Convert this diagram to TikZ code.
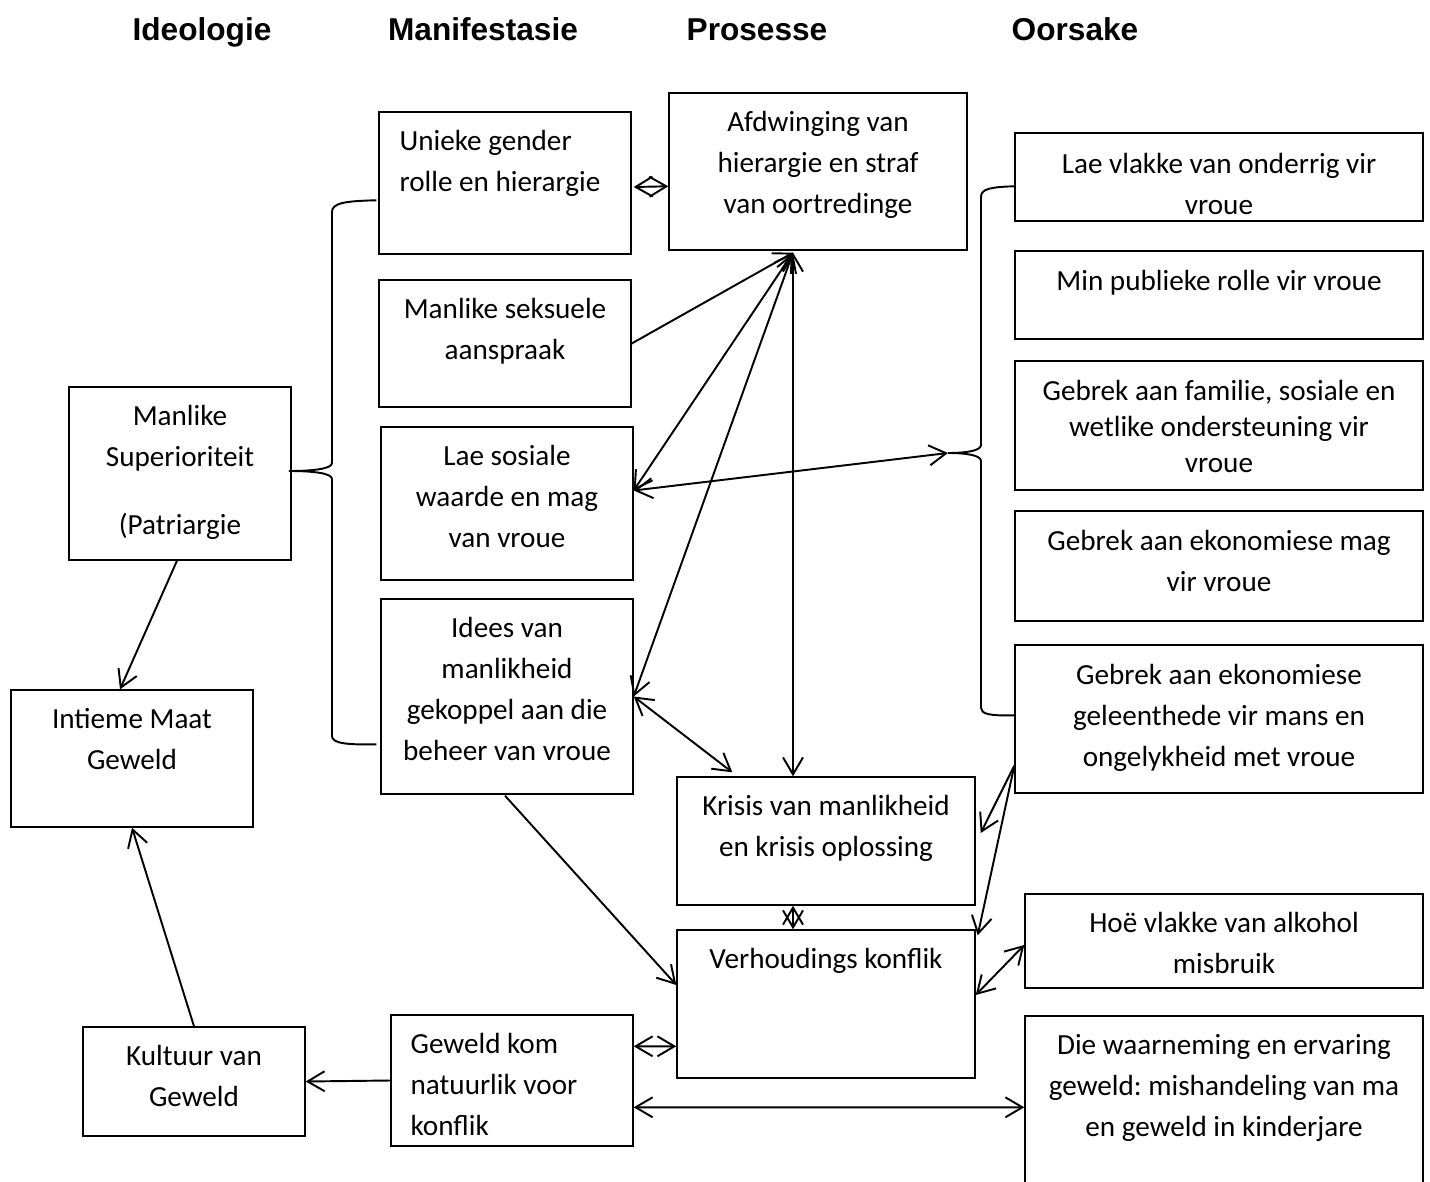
\documentclass[tikz,border=0pt]{standalone}
\usepackage{fontspec}
\setmainfont{Carlito}
\newfontfamily\headfont{Liberation Sans}
\frenchspacing
\usepackage{tikz}
\usetikzlibrary{arrows.meta,positioning,fit}

\begin{document}
\begin{tikzpicture}[x=0.02cm,y=-0.02cm,
  box/.style={draw,line width=0.8pt,inner sep=0pt},
  txt/.style={font=\fontsize{16.6}{23.3}\selectfont,align=center,anchor=north,inner sep=0pt},
  head/.style={font=\headfont\bfseries\fontsize{18}{20}\selectfont,anchor=base,inner sep=0pt},
  link/.style={line width=1.1pt},
  brace/.style={line width=1.1pt},
  >={Straight Barb[length=0.34cm,width=0.4cm]}]
\path[use as bounding box,clip] (0,0) rectangle (1430,1182);

% column heads
\node[head] (hideo) at (202,41) {Ideologie};
\node[head] (hmani) at (483,41) {Manifestasie};
\node[head] (hpros) at (757,41) {Prosesse};
\node[head] (hoors) at (1075,41) {Oorsake};

% ideology
\node[box,fit={(69,387)(291,560)}] (super) {};
\node[txt] at ([shift={(0,19)}]super.north) {Manlike\\Superioriteit\\[0.54cm](Patriargie};
\node[box,fit={(11,690)(253,827)}] (intieme) {};
\node[txt] at ([shift={(0,19)}]intieme.north) {Intieme Maat\\Geweld};
\node[box,fit={(83,1027)(305,1136)}] (kultuur) {};
\node[txt] at ([shift={(0,19)}]kultuur.north) {Kultuur van\\Geweld};

% manifestation
\node[box,fit={(379,112)(631,254)}] (unieke) {};
\node[txt,anchor=north west,align=left] at ([shift={(21,19)}]unieke.north west) {Unieke gender\\rolle en hierargie};
\node[box,fit={(379,280)(631,407)}] (seks) {};
\node[txt] at ([shift={(0,19)}]seks.north) {Manlike seksuele\\aanspraak};
\node[box,fit={(381,427)(633,580)}] (lae) {};
\node[txt] at ([shift={(0,19)}]lae.north) {Lae sosiale\\waarde en mag\\van vroue};
\node[box,fit={(381,599)(633,794)}] (idees) {};
\node[txt] at ([shift={(0,19)}]idees.north) {Idees van\\manlikheid\\gekoppel aan die\\beheer van vroue};
\node[box,fit={(391,1015)(633,1146)}] (geweld) {};
\node[txt,anchor=north west,align=left] at ([shift={(20,19)}]geweld.north west) {Geweld kom\\natuurlik voor\\konflik};

% processes
\node[box,fit={(669,93)(967,250)}] (afdw) {};
\node[txt] at ([shift={(0,19)}]afdw.north) {Afdwinging van\\hierargie en straf\\van oortredinge};
\node[box,fit={(677,777)(975,905)}] (krisis) {};
\node[txt] at ([shift={(0,19)}]krisis.north) {Krisis van manlikheid\\en krisis oplossing};
\node[box,fit={(677,930)(975,1078)}] (konf) {};
\node[txt] at ([shift={(0,19)}]konf.north) {Verhoudings konflik};

% causes
\node[box,fit={(1015,133)(1423,221)}] (vlakke) {};
\begin{scope}
\clip ([shift={(0,-7)}]vlakke.south west) rectangle (vlakke.north east);
\node[txt] at ([shift={(0,21)}]vlakke.north) {Lae vlakke van onderrig vir\\vroue};
\end{scope}
\node[box,fit={(1015,251)(1423,339)}] (publiek) {};
\node[txt] at ([shift={(0,20)}]publiek.north) {Min publieke rolle vir vroue};
\node[box,fit={(1015,361)(1423,490)}] (familie) {};
\node[txt,font=\fontsize{16.6}{20.5}\selectfont] at ([shift={(0,20)}]familie.north) {Gebrek aan familie, sosiale en\\wetlike ondersteuning vir\\vroue};
\node[box,fit={(1015,511)(1423,621)}] (ekmag) {};
\node[txt] at ([shift={(0,20)}]ekmag.north) {Gebrek aan ekonomiese mag\\vir vroue};
\node[box,fit={(1015,645)(1423,793)}] (geleent) {};
\node[txt] at ([shift={(0,20)}]geleent.north) {Gebrek aan ekonomiese\\geleenthede vir mans en\\ongelykheid met vroue};
\node[box,fit={(1025,894)(1423,988)}] (alkohol) {};
\node[txt] at ([shift={(0,19)}]alkohol.north) {Hoë vlakke van alkohol\\misbruik};
\node[box,fit={(1025,1016)(1423,1200)}] (waarn) {};
\node[txt] at ([shift={(0,19)}]waarn.north) {Die waarneming en ervaring\\geweld: mishandeling van ma\\en geweld in kinderjare};

% braces
\coordinate (ltip) at (289,471);
\coordinate (rtip) at (948,453);
\draw[brace] ([shift={(-2,89)}]unieke.north west) .. controls (345,201) and (332,203) .. (332,212) -- (332,463)
  .. controls (332,469) and (312,471) .. (ltip) .. controls (312,471) and (332,473) .. (332,479) -- (332,736)
  .. controls (332,743) and (345,745) .. ([shift={(-4,146)}]idees.north west);
\draw[brace] ([shift={(0,54)}]vlakke.north west) .. controls (990,187) and (981,189) .. (981,197) -- (981,445)
  .. controls (981,451) and (965,453) .. (rtip) .. controls (965,453) and (981,455) .. (981,461) -- (981,708)
  .. controls (981,714) and (990,716) .. ([shift={(0,71)}]geleent.north west);

% connectors
\coordinate (hub) at ([shift={(-25,2)}]afdw.south);
\draw[link,<->] ([shift={(2,4)}]unieke.east) -- ([shift={(0,94)}]afdw.north west);
\draw[link,->] (seks.east) -- (hub);
\draw[link,<->] (hub) -- ([shift={(0,-13)}]lae.east);
\draw[link,<->] (hub) -- (idees.east);
\draw[link,<->] (hub) -- ([shift={(-33,0)}]krisis.north);
\draw[link,<->] ([shift={(0,-13)}]lae.east) -- (rtip);
\draw[link,<->] (idees.east) -- ([shift={(56,-4)}]krisis.north west);
\draw[link,<->] ([shift={(-33,0)}]krisis.south) -- ([shift={(-33,0)}]konf.north);
\draw[link,->] ([shift={(0,-28)}]geleent.south west) -- ([shift={(5,-8)}]krisis.east);
\draw[link,->] ([shift={(0,-28)}]geleent.south west) -- ([shift={(2,6)}]konf.north east);
\draw[link,<->] ([shift={(0,-9)}]konf.east) -- ([shift={(0,4)}]alkohol.west);
\draw[link,->] ([shift={(-2,1)}]idees.south) -- ([shift={(0,-19)}]konf.west);
\draw[link,<->] ([shift={(0,32)}]geweld.north east) -- ([shift={(0,117)}]konf.north west);
\draw[link,<->] ([shift={(0,93)}]geweld.north east) -- ([shift={(0,92)}]waarn.north west);
\draw[link,->] (geweld.west) -- (kultuur.east);
\draw[link,->] (kultuur.north) -- (intieme.south);
\draw[link,->] ([shift={(-3,0)}]super.south) -- ([shift={(-12,0)}]intieme.north);
\end{tikzpicture}
\end{document}
